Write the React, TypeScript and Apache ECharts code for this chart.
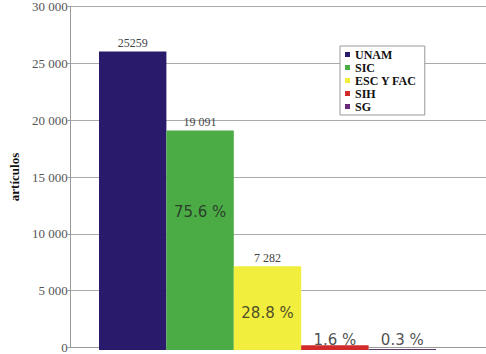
import React, { useEffect, useRef } from "react";
import * as echarts from "echarts";

const categories = ["UNAM", "SIC", "ESC Y FAC", "SIH", "SG"];
const barValues = [25960, 19091, 7282, 404, 80];
const valueLabels = ["25259", "19 091", "7 282", "", ""];
const pctLabels = ["", "75.6 %", "28.8 %", "1.6 %", "0.3 %"];
const pctLabelAt = [null, 12000, 3200, 870, 870];
const colors = ["#2a1a6c", "#4bac46", "#f1ee3e", "#d22b2b", "#5c3a6c"];
const legendColors = ["#2a1a6c", "#4bac46", "#f1ee3e", "#d22b2b", "#6a2c7a"];
const yTicks = { min: 0, max: 30000, interval: 5000 };

function fmt(v: number) {
  if (v === 0) return "0";
  const s = String(v);
  return s.slice(0, s.length - 3) + " " + s.slice(s.length - 3);
}

export default function App() {
  const ref = useRef<HTMLDivElement>(null);
  useEffect(() => {
    const chart = echarts.init(ref.current!, null, { renderer: "svg" });
    const serif = "Liberation Serif";
    const series: any[] = categories.map((name, i) => ({
      name,
      type: "bar",
      stack: "all",
      xAxisIndex: 1,
      yAxisIndex: 1,
      barCategoryGap: 0,
      itemStyle: { color: colors[i], borderColor: colors[i], borderWidth: 0 },
      label: {
        show: valueLabels[i] !== "",
        position: "top",
        distance: 2,
        formatter: () => valueLabels[i],
        fontFamily: serif,
        fontSize: 12,
        color: "#444",
      },
      data: categories.map((_, j) => (j === i ? barValues[i] : "-")),
    }));
    series.push({
      name: "pct",
      type: "scatter",
      xAxisIndex: 1,
      yAxisIndex: 1,
      symbolSize: 0,
      silent: true,
      label: {
        show: true,
        position: "inside",
        formatter: (p: any) => pctLabels[p.data[0]],
        fontFamily: "DejaVu Sans",
        fontSize: 15,
        color: "#222",
      },
      data: pctLabelAt
        .map((y, i) => (y === null ? null : [i, y]))
        .filter((d) => d !== null),
    });
    chart.setOption({
      animation: false,
      grid: [
        { left: 49, right: 0, top: 5, bottom: 4 },
        { left: 99, right: 50, top: 5, bottom: 4 },
      ],
      legend: {
        orient: "vertical",
        left: 340,
        top: 46,
        data: categories.map((name, i) => ({
          name,
          itemStyle: { color: legendColors[i] },
        })),
        icon: "rect",
        itemWidth: 5,
        itemHeight: 5,
        itemGap: 0,
        padding: [2, 8, 2, 5],
        borderColor: "#999",
        borderWidth: 1,
        backgroundColor: "#fff",
        textStyle: {
          fontFamily: serif,
          fontWeight: "bold",
          fontSize: 12,
          lineHeight: 13,
          color: "#111",
        },
      },
      xAxis: [
        {
          type: "category",
          gridIndex: 0,
          data: [""],
          axisLine: { show: true, lineStyle: { color: "#999" } },
          axisTick: { show: false },
          axisLabel: { show: false },
        },
        {
          type: "category",
          gridIndex: 1,
          data: categories,
          show: false,
        },
      ],
      yAxis: [
        {
          type: "value",
          gridIndex: 0,
          ...yTicks,
          name: "artículos",
          nameLocation: "middle",
          nameGap: 44,
          nameTextStyle: {
            fontFamily: serif,
            fontWeight: "bold",
            fontSize: 13,
            color: "#111",
          },
          axisLine: { show: true, lineStyle: { color: "#999" } },
          axisTick: { show: true, length: 3, lineStyle: { color: "#999" } },
          axisLabel: {
            fontFamily: serif,
            fontSize: 13,
            color: "#555",
            margin: 3,
            formatter: (v: number) => fmt(v),
          },
          splitLine: { show: true, lineStyle: { color: "#aaa" } },
        },
        {
          type: "value",
          gridIndex: 1,
          ...yTicks,
          show: false,
          splitLine: { show: false },
        },
      ],
      series,
    });
    return () => chart.dispose();
  }, []);
  return (
    <div
      ref={ref}
      style={{ position: "fixed", left: 0, top: 0, width: 486, height: 354, background: "#fff" }}
    />
  );
}
